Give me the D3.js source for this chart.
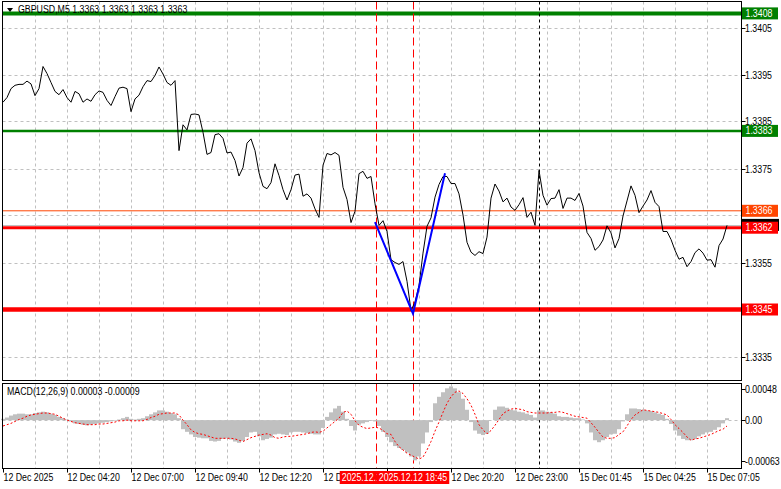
<!DOCTYPE html>
<html><head><meta charset="utf-8">
<script src="https://cdn.jsdelivr.net/npm/d3@7"></script>
<style>
body{margin:0;background:#fff}
svg{display:block}
text{font-family:Tahoma,"Liberation Sans",Arial,sans-serif;font-size:10px}
</style>
</head><body>
<svg id="c" width="781" height="489"></svg>
<script>
// ---------------- DATA ----------------
const symbolTitle = "GBPUSD,M5  1.3363 1.3363 1.3363 1.3363";
const macdTitle = "MACD(12,26,9) 0.00003 -0.00009";

const prices = [
1.33891,1.33901,1.33920,1.33927,1.33929,1.33929,1.33936,1.33930,1.33905,1.33920,
1.33967,1.33952,1.33933,1.33914,1.33907,1.33918,1.33901,1.33891,1.33914,1.33909,
1.33891,1.33898,1.33893,1.33907,1.33915,1.33912,1.33895,1.33884,1.33903,1.33921,
1.33923,1.33920,1.33871,1.33898,1.33906,1.33924,1.33937,1.33935,1.33948,1.33966,
1.33951,1.33933,1.33927,1.33937,1.33788,1.33843,1.33832,1.33865,1.33866,1.33864,
1.33827,1.33780,1.33784,1.33822,1.33824,1.33814,1.33783,1.33785,1.33767,1.33734,
1.33752,1.33804,1.33813,1.33788,1.33741,1.33712,1.33707,1.33720,1.33760,1.33735,
1.33705,1.33683,1.33705,1.33736,1.33738,1.33691,1.33696,1.33687,1.33664,1.33646,
1.33757,1.33782,1.33779,1.33784,1.33778,1.33710,1.33684,1.33635,1.33659,1.33739,
1.33744,1.33729,1.33733,1.33675,1.33629,1.33639,1.33616,1.33556,1.33550,1.33546,
1.33552,1.33510,1.33448,1.33466,1.33501,1.33570,1.33627,1.33645,1.33689,1.33716,
1.33733,1.33733,1.33718,1.33718,1.33696,1.33651,1.33593,1.33572,1.33565,1.33573,
1.33569,1.33604,1.33687,1.33717,1.33702,1.33679,1.33687,1.33668,1.33661,1.33673,
1.33688,1.33646,1.33657,1.33629,1.33746,1.33693,1.33672,1.33686,1.33687,1.33705,
1.33665,1.33687,1.33687,1.33682,1.33697,1.33670,1.33614,1.33601,1.33576,1.33584,
1.33598,1.33628,1.33613,1.33581,1.33601,1.33649,1.33681,1.33713,1.33693,1.33656,
1.33670,1.33683,1.33703,1.33678,1.33669,1.33616,1.33616,1.33599,1.33576,1.33557,
1.33561,1.33541,1.33552,1.33571,1.33579,1.33570,1.33555,1.33556,1.33540,1.33586,
1.33600,1.33629
];

const macdHist = [
0.00002,0.00004,0.00007,0.00009,0.00010,0.00010,0.00009,0.00009,0.00011,0.00012,
0.00013,0.00012,0.00010,0.00008,0.00005,0.00003,0.00001,-0.00002,-0.00005,-0.00006,
-0.00007,-0.00008,-0.00007,-0.00006,-0.00005,-0.00004,-0.00003,-0.00002,-0.00001,0.00001,
0.00003,0.00005,0.00002,0.00001,0.00002,0.00003,0.00006,0.00009,0.00012,0.00015,
0.00015,0.00013,0.00011,0.00009,0.00003,-0.00014,-0.00018,-0.00022,-0.00026,-0.00027,
-0.00028,-0.00028,-0.00032,-0.00033,-0.00032,-0.00029,-0.00028,-0.00030,-0.00033,-0.00035,
-0.00032,-0.00026,-0.00019,-0.00018,-0.00025,-0.00031,-0.00029,-0.00027,-0.00022,-0.00021,
-0.00022,-0.00023,-0.00019,-0.00018,-0.00018,-0.00019,-0.00020,-0.00021,-0.00022,-0.00022,
-0.00012,0.00005,0.00012,0.00018,0.00022,0.00013,0.00002,-0.00009,-0.00016,-0.00007,
-0.00005,-0.00003,-0.00001,-0.00002,-0.00009,-0.00018,-0.00026,-0.00034,-0.00040,-0.00043,
-0.00046,-0.00050,-0.00056,-0.00062,-0.00056,-0.00036,-0.00019,-0.00003,0.00026,0.00036,
0.00043,0.00049,0.00052,0.00049,0.00043,0.00033,0.00016,-0.00003,-0.00016,-0.00021,
-0.00023,-0.00021,0.00000,0.00016,0.00021,0.00021,0.00019,0.00016,0.00015,0.00013,
0.00012,0.00010,0.00008,0.00004,0.00015,0.00015,0.00013,0.00012,0.00010,0.00006,
0.00005,0.00005,0.00004,0.00003,0.00003,0.00001,-0.00005,-0.00019,-0.00031,-0.00034,
-0.00031,-0.00026,-0.00022,-0.00021,-0.00014,-0.00002,0.00009,0.00018,0.00018,0.00017,
0.00016,0.00015,0.00014,0.00012,0.00010,0.00008,0.00002,-0.00006,-0.00016,-0.00024,
-0.00029,-0.00031,-0.00031,-0.00029,-0.00025,-0.00022,-0.00019,-0.00018,-0.00015,-0.00011,
-0.00005,0.00003
];

const macdSignal = [
-0.00009,-0.00007,-0.00005,-0.00002,0.00001,0.00003,0.00006,0.00008,0.00009,0.00010,
0.00011,0.00011,0.00010,0.00009,0.00006,0.00003,0.00000,-0.00002,-0.00004,-0.00005,
-0.00006,-0.00007,-0.00007,-0.00007,-0.00006,-0.00006,-0.00005,-0.00004,-0.00003,-0.00001,
-0.00001,0.00000,-0.00001,-0.00001,-0.00001,-0.00001,0.00001,0.00004,0.00006,0.00009,
0.00010,0.00011,0.00011,0.00011,0.00008,0.00000,-0.00007,-0.00015,-0.00019,-0.00021,
-0.00022,-0.00024,-0.00026,-0.00028,-0.00028,-0.00028,-0.00028,-0.00028,-0.00029,-0.00031,
-0.00033,-0.00030,-0.00027,-0.00025,-0.00023,-0.00022,-0.00021,-0.00023,-0.00027,-0.00028,
-0.00026,-0.00025,-0.00025,-0.00024,-0.00023,-0.00022,-0.00021,-0.00019,-0.00018,-0.00019,
-0.00017,-0.00012,-0.00007,-0.00002,0.00003,0.00012,0.00014,0.00009,-0.00001,-0.00008,
-0.00011,-0.00013,-0.00012,-0.00011,-0.00012,-0.00016,-0.00021,-0.00022,-0.00033,-0.00041,
-0.00046,-0.00051,-0.00054,-0.00057,-0.00060,-0.00057,-0.00046,-0.00033,-0.00017,-0.00003,
0.00012,0.00026,0.00036,0.00043,0.00045,0.00041,0.00033,0.00023,0.00009,-0.00007,
-0.00015,-0.00021,-0.00016,-0.00008,0.00001,0.00010,0.00014,0.00017,0.00018,0.00017,
0.00016,0.00013,0.00012,0.00011,0.00011,0.00011,0.00011,0.00012,0.00012,0.00013,
0.00012,0.00010,0.00008,0.00006,0.00005,0.00004,0.00003,-0.00004,-0.00011,-0.00019,
-0.00026,-0.00028,-0.00028,-0.00027,-0.00022,-0.00018,-0.00009,0.00001,0.00008,0.00012,
0.00016,0.00015,0.00014,0.00013,0.00012,0.00010,0.00008,0.00001,-0.00007,-0.00013,
-0.00019,-0.00026,-0.00031,-0.00029,-0.00028,-0.00026,-0.00024,-0.00022,-0.00019,-0.00016,
-0.00014,-0.00009
];

// time labels every 16 samples; "12 Dec 17:40" sits fully under the red marker labels in the reference
const timeLabels = ["12 Dec 2025","12 Dec 04:20","12 Dec 07:00","12 Dec 09:40","12 Dec 12:20","12 Dec 15:00",
                    "12 Dec 17:40","12 Dec 20:20","12 Dec 23:00","15 Dec 01:45","15 Dec 04:25","15 Dec 07:05"];
const hiddenTimeLabels = ["12 Dec 17:40"];
const priceTicks = [1.3405,1.3395,1.3385,1.3375,1.3365,1.3355,1.3345,1.3335];
const hiddenPriceTicks = [1.3365,1.3345]; // covered by level labels
const macdTicks = [0.00048,0.00,-0.00063];
const macdTickLabels = ["0.00048","0.00","-0.00063"];

const levelValues = [1.3408,1.3383,1.3366,1.33624,1.3345];
const levelLabels = ["1.3408","1.3383","1.3366","1.3362","1.3345"];
const lastPrice = 1.3363;

const zigzagIdx = [93,102.5,110.5];
const zigzagPrice = [1.33636,1.33441,1.33740];

const markerIdx = [93.25,102.5];
const markerLabels = ["2025.12.12 18:00","2025.12.12 18:45"];
const periodSepIdx = 134;

// ---------------- STYLES ----------------
const levelStyle = [
  {color:"#008000", w:4},
  {color:"#008000", w:2.5},
  {color:"#ff4500", w:1},
  {color:"#ff0000", w:3},
  {color:"#ff0000", w:4.5}
];
const GRID = "#c0c0c0";
const NARROW = 0.88;

// ---------------- LAYOUT ----------------
const L = 2.5, R = 741.5;
const mainTop = 1.5, mainBot = 380.5;
const subTop = 383.5, subBot = 468.5;

const svg = d3.select("#c");
const x = d3.scaleLinear().domain([0, prices.length - 1]).range([3, 3 + 4*(prices.length - 1)]);
const y = d3.scaleLinear().domain([1.3335, 1.3405]).range([356.5, 27.5]);
const ym = d3.scaleLinear().domain([-0.00063, 0.00048]).range([461, 389]);

function narrow(sel){
  sel.each(function(){
    const w = this.getComputedTextLength();
    d3.select(this).attr("textLength", w*NARROW).attr("lengthAdjust","spacingAndGlyphs");
  });
  return sel;
}

// grids
const gGrid = svg.append("g").attr("stroke", GRID).attr("stroke-dasharray","3,3").attr("stroke-width",1);
priceTicks.forEach(p => gGrid.append("line").attr("x1",L).attr("x2",R)
  .attr("y1",Math.round(y(p))+0.5).attr("y2",Math.round(y(p))+0.5));
for (let k = 8; k < prices.length + 8; k += 8) {
  const xx = Math.round(x(k)) + 0.5;
  if (xx >= R - 3) break;
  gGrid.append("line").attr("x1",xx).attr("x2",xx).attr("y1",mainTop).attr("y2",mainBot);
  gGrid.append("line").attr("x1",xx).attr("x2",xx).attr("y1",subTop).attr("y2",subBot);
}
gGrid.append("line").attr("x1",L).attr("x2",R).attr("y1",Math.round(ym(0))+0.5).attr("y2",Math.round(ym(0))+0.5);

// last price line (gray)
svg.append("line").attr("x1",L).attr("x2",R).attr("y1",Math.round(y(lastPrice))+0.5).attr("y2",Math.round(y(lastPrice))+0.5)
  .attr("stroke","#c0c0c0").attr("stroke-width",1);

// levels
levelValues.forEach((v,i) => {
  svg.append("line").attr("x1",L).attr("x2",R).attr("y1",y(v)).attr("y2",y(v))
    .attr("stroke",levelStyle[i].color).attr("stroke-width",levelStyle[i].w);
});

// vertical markers
markerIdx.forEach(mi => {
  const xx = Math.round(x(mi)) + 0.5;
  [[mainTop,mainBot],[subTop,subBot]].forEach(([a,b]) =>
    svg.append("line").attr("x1",xx).attr("x2",xx).attr("y1",a).attr("y2",b)
      .attr("stroke","#ff0000").attr("stroke-width",1).attr("stroke-dasharray","8,4"));
});
{
  const xx = Math.round(x(periodSepIdx)) + 0.5;
  [[mainTop,mainBot],[subTop,subBot]].forEach(([a,b]) =>
    svg.append("line").attr("x1",xx).attr("x2",xx).attr("y1",a).attr("y2",b)
      .attr("stroke","#000").attr("stroke-width",1).attr("stroke-dasharray","3,3"));
}

// price line
svg.append("path").datum(prices)
  .attr("d", d3.line().x((d,i)=>x(i)).y(d=>y(d)))
  .attr("fill","none").attr("stroke","#000").attr("stroke-width",1);

// zigzag
svg.append("path").datum(zigzagIdx.map((d,i)=>[d,zigzagPrice[i]]))
  .attr("d", d3.line().x(d=>x(d[0])).y(d=>y(d[1])))
  .attr("fill","none").attr("stroke","#0000ff").attr("stroke-width",2);

// MACD histogram
svg.append("g").selectAll("rect").data(macdHist).join("rect")
  .attr("x",(d,i)=>x(i)-2).attr("width",4)
  .attr("y",d=>Math.min(ym(d),ym(0))).attr("height",d=>Math.abs(ym(d)-ym(0)))
  .attr("fill","#c0c0c0");
// signal
svg.append("path").datum(macdSignal)
  .attr("d", d3.line().x((d,i)=>x(i)).y(d=>ym(d)))
  .attr("fill","none").attr("stroke","#ff0000").attr("stroke-width",1).attr("stroke-dasharray","2,2");

// frames
svg.append("rect").attr("x",L).attr("y",mainTop).attr("width",R-L).attr("height",mainBot-mainTop)
  .attr("fill","none").attr("stroke","#000");
svg.append("rect").attr("x",L).attr("y",subTop).attr("width",R-L).attr("height",subBot-subTop)
  .attr("fill","none").attr("stroke","#000");

// right axis: price
priceTicks.forEach(p => {
  const yy = Math.round(y(p)) + 0.5;
  svg.append("line").attr("x1",R).attr("x2",R+4).attr("y1",yy).attr("y2",yy).attr("stroke","#000");
  if (hiddenPriceTicks.includes(p)) return;
  narrow(svg.append("text").attr("x",745).attr("y",yy).attr("dy","0.35em").text(d3.format(".4f")(p)));
});
macdTicks.forEach((p,i) => {
  const yy = Math.round(ym(p)) + 0.5;
  svg.append("line").attr("x1",R).attr("x2",R+4).attr("y1",yy).attr("y2",yy).attr("stroke","#000");
  narrow(svg.append("text").attr("x",745).attr("y",yy).attr("dy","0.35em").text(macdTickLabels[i]));
});

// last price box (black, mostly hidden) then level boxes
svg.append("rect").attr("x",742).attr("y",y(lastPrice)-6).attr("width",37).attr("height",12).attr("fill","#000");
levelValues.forEach((v,i) => {
  const yy = y(v);
  svg.append("rect").attr("x",742).attr("y",yy-6).attr("width",36).attr("height",12).attr("fill",levelStyle[i].color);
  narrow(svg.append("text").attr("x",745.5).attr("y",yy).attr("dy","0.35em").attr("fill","#fff").text(levelLabels[i]));
});

// x axis
timeLabels.forEach((t,k) => {
  const xx = Math.round(x(k*16)) + 0.5;
  svg.append("line").attr("x1",xx).attr("x2",xx).attr("y1",subBot).attr("y2",subBot+4).attr("stroke","#000");
  if (hiddenTimeLabels.includes(t)) return;
  narrow(svg.append("text").attr("x",xx).attr("y",481).text(t));
});
markerIdx.forEach((mi,k) => {
  const xx = x(mi);
  const t = svg.append("text").attr("y",481).attr("fill","#fff").attr("text-anchor","middle").attr("x",xx).text(markerLabels[k]);
  narrow(t);
  const w = t.node().getComputedTextLength() + 4;
  svg.insert("rect", () => t.node()).attr("x",xx-w/2).attr("y",471).attr("width",w).attr("height",13).attr("fill","#ff0000");
});

// titles
svg.append("path").attr("d","M7,8 L13,8 L10,12 Z").attr("fill","#000");
narrow(svg.append("text").attr("x",18).attr("y",13).text(symbolTitle));
narrow(svg.append("text").attr("x",7).attr("y",395).text(macdTitle));
</script>
</body></html>
